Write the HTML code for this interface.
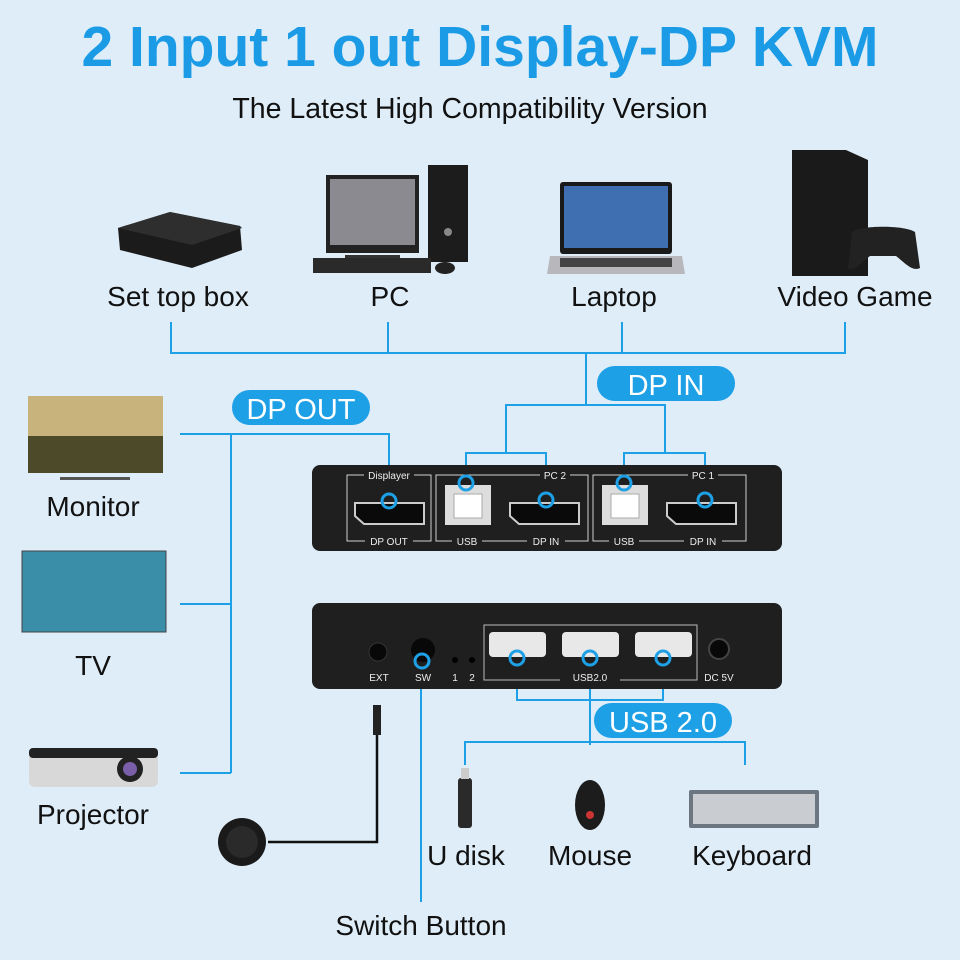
<!DOCTYPE html>
<html><head><meta charset="utf-8"><style>
html,body{margin:0;padding:0;background:#deedf8;}
svg{display:block;font-family:"Liberation Sans",sans-serif;}
</style></head><body>
<svg width="960" height="960" viewBox="0 0 960 960">
<rect width="960" height="960" fill="#deedf8"/>
<text x="480" y="66" text-anchor="middle" font-size="57" font-weight="bold" fill="#1b9be6">2 Input 1 out Display-DP KVM</text>
<text x="470" y="118" text-anchor="middle" font-size="28.5" fill="#111">The Latest High Compatibility Version</text>

<!-- top devices -->
<g>
 <path d="M118 228 L170 212 L240 226 L242 250 L192 268 L120 250 Z" fill="#1b1b1b"/>
 <path d="M118 228 L192 245 L242 228 L240 226 L170 212 Z" fill="#2e2e2e"/>
 <rect x="326" y="175" width="93" height="78" fill="#222"/>
 <rect x="330" y="179" width="85" height="66" fill="#8a8a90"/>
 <rect x="345" y="255" width="55" height="6" fill="#333"/>
 <rect x="428" y="165" width="40" height="97" fill="#1c1c1c"/>
 <circle cx="448" cy="232" r="4" fill="#888"/>
 <rect x="313" y="258" width="118" height="15" fill="#2a2a2a"/>
 <ellipse cx="445" cy="268" rx="10" ry="6" fill="#222"/>
 <rect x="560" y="182" width="112" height="72" rx="3" fill="#1a1a1a"/>
 <rect x="564" y="186" width="104" height="62" fill="#3f6fb0"/>
 <path d="M550 256 L682 256 L685 274 L547 274 Z" fill="#b8b8bc"/>
 <rect x="560" y="258" width="112" height="9" fill="#444"/>
 <path d="M792 150 L846 150 L868 160 L868 276 L792 276 Z" fill="#1a1a1a"/>
 <path d="M852 232 C860 225 905 225 915 232 L920 268 C912 272 904 262 896 256 L870 256 C862 262 854 272 848 268 Z" fill="#222"/>
</g>
<g font-size="28" fill="#111" text-anchor="middle">
 <text x="178" y="306">Set top box</text>
 <text x="390" y="306">PC</text>
 <text x="614" y="306">Laptop</text>
 <text x="855" y="306">Video Game</text>
</g>

<!-- connector lines -->
<g stroke="#1ea0e6" stroke-width="2" fill="none">
 <path d="M171 322 V353 H845 V322 M388 322 V353 M622 322 V353"/>
 <path d="M586 353 V405 M506 453 V405 H665 V453"/>
 <path d="M466 483 V453 H546 V500 M624 483 V453 H705 V500"/>
 <path d="M180 434 H389 V500"/>
 <path d="M231 434 V773 M180 604 H231 M180 773 H231"/>
 <path d="M421 660 V902"/>
 <path d="M517 660 V700 H663 V660 M590 660 V745"/>
 <path d="M465 765 V742 H745 V765"/>
</g>
<rect x="597" y="366" width="138" height="35" rx="17.5" fill="#1ea0e6"/>
<text x="666" y="395" text-anchor="middle" font-size="29" fill="#fff">DP IN</text>
<rect x="232" y="390" width="138" height="35" rx="17.5" fill="#1ea0e6"/>
<text x="301" y="419" text-anchor="middle" font-size="29" fill="#fff">DP OUT</text>
<rect x="594" y="703" width="138" height="35" rx="17.5" fill="#1ea0e6"/>
<text x="663" y="732" text-anchor="middle" font-size="29" fill="#fff">USB 2.0</text>

<!-- top KVM panel -->
<rect x="312" y="465" width="470" height="86" rx="8" fill="#1f1f1f"/>
<g stroke="#cfcfcf" stroke-width="1" fill="none">
 <rect x="347" y="475" width="84" height="66"/>
 <rect x="436" y="475" width="152" height="66"/>
 <rect x="593" y="475" width="153" height="66"/>
</g>
<g font-size="10" fill="#eee" text-anchor="middle">
 <rect x="364" y="470" width="50" height="10" fill="#1f1f1f"/><text x="389" y="479">Displayer</text>
 <rect x="540" y="470" width="30" height="10" fill="#1f1f1f"/><text x="555" y="479">PC 2</text>
 <rect x="688" y="470" width="30" height="10" fill="#1f1f1f"/><text x="703" y="479">PC 1</text>
 <rect x="365" y="536" width="48" height="10" fill="#1f1f1f"/><text x="389" y="545">DP OUT</text>
 <rect x="452" y="536" width="30" height="10" fill="#1f1f1f"/><text x="467" y="545">USB</text>
 <rect x="527" y="536" width="38" height="10" fill="#1f1f1f"/><text x="546" y="545">DP IN</text>
 <rect x="609" y="536" width="30" height="10" fill="#1f1f1f"/><text x="624" y="545">USB</text>
 <rect x="684" y="536" width="38" height="10" fill="#1f1f1f"/><text x="703" y="545">DP IN</text>
</g>
<g fill="#0a0a0a" stroke="#ccc" stroke-width="2">
 <path d="M355 503 H424 V524 H364 L355 516 Z"/>
 <path d="M510 503 H579 V524 H519 L510 516 Z"/>
 <path d="M667 503 H736 V524 H676 L667 516 Z"/>
</g>
<rect x="445" y="485" width="46" height="40" fill="#ddd"/>
<rect x="454" y="494" width="28" height="24" fill="#fff" stroke="#aaa"/>
<rect x="602" y="485" width="46" height="40" fill="#ddd"/>
<rect x="611" y="494" width="28" height="24" fill="#fff" stroke="#aaa"/>
<g fill="none" stroke="#1ea0e6" stroke-width="3">
 <circle cx="389" cy="501" r="7"/><circle cx="466" cy="483" r="7"/><circle cx="546" cy="500" r="7"/>
 <circle cx="624" cy="483" r="7"/><circle cx="705" cy="500" r="7"/>
</g>

<!-- bottom KVM panel -->
<rect x="312" y="603" width="470" height="86" rx="8" fill="#1f1f1f"/>
<rect x="484" y="625" width="213" height="55" fill="none" stroke="#bbb"/>
<rect x="560" y="674" width="60" height="10" fill="#1f1f1f"/>
<g font-size="10" fill="#eee" text-anchor="middle">
 <text x="379" y="681">EXT</text><text x="423" y="681">SW</text>
 <text x="455" y="681">1</text><text x="472" y="681">2</text>
 <text x="590" y="681">USB2.0</text><text x="719" y="681">DC 5V</text>
</g>
<circle cx="378" cy="652" r="9" fill="#080808" stroke="#333"/>
<circle cx="423" cy="650" r="12" fill="#080808"/>
<circle cx="455" cy="660" r="3" fill="#000"/><circle cx="472" cy="660" r="3" fill="#000"/>
<circle cx="719" cy="649" r="10" fill="#080808" stroke="#444" stroke-width="2"/>
<g fill="#e8e8e8">
 <rect x="489" y="632" width="57" height="25" rx="4"/>
 <rect x="562" y="632" width="57" height="25" rx="4"/>
 <rect x="635" y="632" width="57" height="25" rx="4"/>
</g>
<g fill="none" stroke="#1ea0e6" stroke-width="3">
 <circle cx="422" cy="661" r="7"/><circle cx="517" cy="658" r="7"/><circle cx="590" cy="658" r="7"/><circle cx="663" cy="658" r="7"/>
</g>

<!-- left devices -->
<rect x="28" y="396" width="135" height="77" fill="#4d4a2a"/>
<rect x="28" y="396" width="135" height="40" fill="#c8b37c"/>
<rect x="60" y="477" width="70" height="3" fill="#555"/>
<rect x="22" y="551" width="144" height="81" fill="#3a8ea8"/>
<rect x="22" y="551" width="144" height="81" fill="none" stroke="#444"/>
<rect x="29" y="748" width="129" height="39" rx="6" fill="#d8d8d8"/>
<rect x="29" y="748" width="129" height="10" rx="4" fill="#222"/>
<circle cx="130" cy="769" r="13" fill="#222"/><circle cx="130" cy="769" r="7" fill="#7a5ea8"/>
<g font-size="28" fill="#111" text-anchor="middle">
 <text x="93" y="516">Monitor</text>
 <text x="93" y="675">TV</text>
 <text x="93" y="824">Projector</text>
</g>

<!-- switch button -->
<path d="M377 733 V842 H268" fill="none" stroke="#111" stroke-width="2.5"/>
<rect x="373" y="705" width="8" height="30" fill="#222"/>
<circle cx="242" cy="842" r="24" fill="#1a1a1a"/><circle cx="242" cy="842" r="16" fill="#2a2a2a"/>
<text x="421" y="935" text-anchor="middle" font-size="28" fill="#111">Switch Button</text>

<!-- bottom devices -->
<rect x="458" y="778" width="14" height="50" rx="3" fill="#2a2a2a"/>
<rect x="461" y="768" width="8" height="11" fill="#ccc"/>
<ellipse cx="590" cy="805" rx="15" ry="25" fill="#1c1c1c"/>
<circle cx="590" cy="815" r="4" fill="#c33"/>
<rect x="689" y="790" width="130" height="38" rx="2" fill="#6c7680"/>
<rect x="693" y="794" width="122" height="30" fill="#c9ccd0"/>
<g font-size="28" fill="#111" text-anchor="middle">
 <text x="466" y="865">U disk</text>
 <text x="590" y="865">Mouse</text>
 <text x="752" y="865">Keyboard</text>
</g>
</svg>
</body></html>
